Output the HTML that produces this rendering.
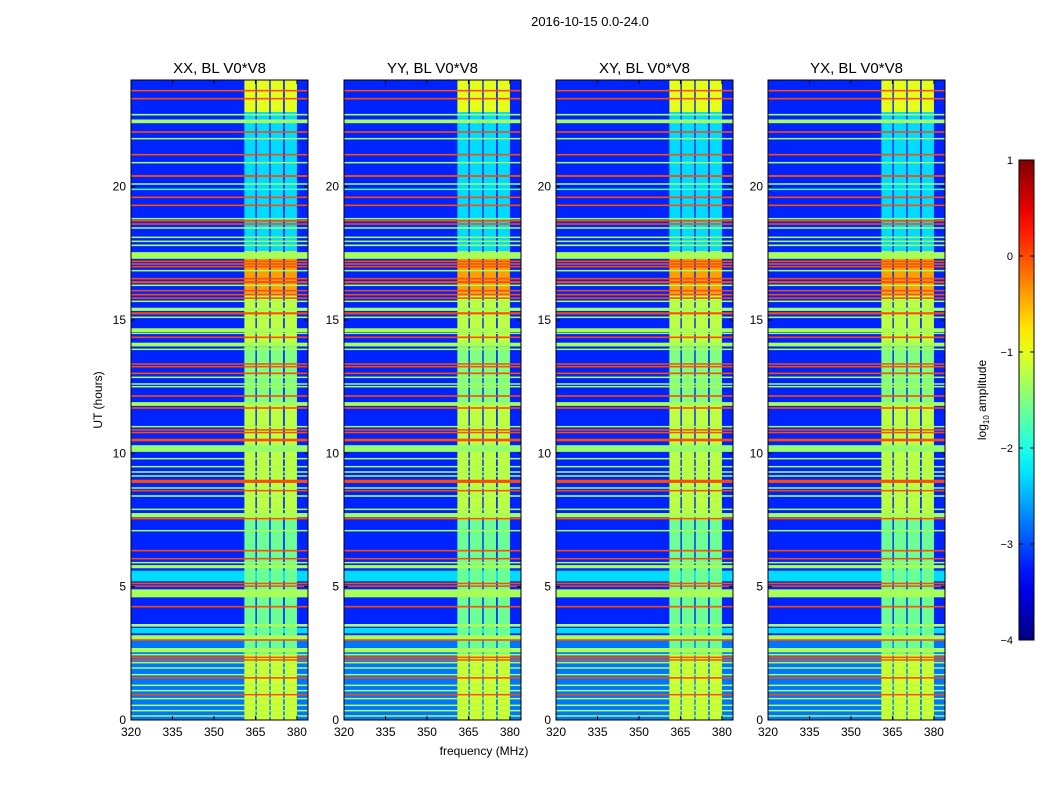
<!DOCTYPE html>
<html><head><meta charset="utf-8">
<style>
body{margin:0;background:#fff;}
svg{display:block;font-family:"Liberation Sans","DejaVu Sans",sans-serif;}
</style></head>
<body>
<svg id="chart" width="1050" height="800" viewBox="0 0 1050 800" xmlns="http://www.w3.org/2000/svg">
<rect width="1050" height="800" fill="#fff"/>
<text x="590" y="26" font-size="13" text-anchor="middle">2016-10-15 0.0-24.0</text>
<text x="484" y="755" font-size="12" text-anchor="middle">frequency (MHz)</text>
<text x="0" y="0" font-size="12" text-anchor="middle" transform="translate(102,400) rotate(-90)">UT (hours)</text>
<g id="panels"></g>
<g id="cbar"></g>
<text x="0" y="0" font-size="12" text-anchor="middle" transform="translate(986,400) rotate(-90)">log<tspan font-size="8" dy="3">10</tspan><tspan dy="-3"> amplitude</tspan></text>
</svg>
<script>
const panelTitles = ["XX, BL V0*V8","YY, BL V0*V8","XY, BL V0*V8","YX, BL V0*V8"];
const xTicks = [320,335,350,365,380];
const yTicks = [0,5,10,15,20];
const cbarTicks = [1,0,-1,-2,-3,-4];
const backgroundLevel = -3.2;
// background segments [t0, t1, level]
const bgSegments = [[0,3,-2.8],[5.2,5.6,-2.3],[3.25,3.45,-2.3]];
// vertical bands [f0, f1]
const bandFreqs = [[361,365],[365.5,370],[370.5,375],[375.6,380]];
// band level by time segments [t0, t1, level]
const bandSegments = [[0,2.5,-1.1],[2.5,7.5,-1.6],[7.5,11.8,-1.2],[11.8,14,-1.5],[14,16,-1.2],[16,17.3,-0.4],[17.3,17.6,-1.3],[17.6,22.8,-2.3],[22.8,24,-1.0]];
// horizontal RFI lines [hour, level, width(h)]
const rfiLines = [
[23.6,0,0.06],[23.3,0,0.06],[22.7,-1.3,0.06],[22.45,-1.3,0.14],[22.05,0,0.06],[21.8,-1.3,0.05],[21.2,0,0.06],[20.9,-1.3,0.05],
[20.4,0,0.07],[20.1,-1.3,0.05],[19.9,-1.8,0.04],[19.6,0,0.06],[19.3,0,0.06],[18.8,-1.3,0.05],[18.72,0,0.05],[18.6,0,0.05],
[18.45,-1.3,0.05],[18.1,-1.3,0.05],[17.95,-1.3,0.05],[17.8,-1.3,0.06],[17.42,-1.3,0.25],[17.2,0,0.06],[17.1,0,0.06],[17.0,0,0.05],
[16.85,-1.3,0.05],[16.55,0,0.06],[16.42,0,0.08],[16.3,-1.3,0.05],[16.1,0,0.05],[15.95,0,0.06],[15.82,0,0.05],[15.7,-1.3,0.05],
[15.4,-1.3,0.12],[15.25,0,0.08],[15.1,-1.3,0.05],[14.62,-1.3,0.14],[14.5,-1.3,0.05],[14.35,0,0.06],[14.08,-1.3,0.14],[13.9,-1.3,0.05],
[13.35,0,0.05],[13.25,0,0.05],[13.0,0,0.06],[12.85,-1.3,0.05],[12.6,-1.3,0.05],[12.5,-1.3,0.05],[12.15,0,0.06],
[11.85,-1.3,0.14],[11.7,0,0.06],[11.0,-1.3,0.05],[10.88,0,0.05],[10.78,0,0.05],[10.5,0,0.1],[10.18,-1.4,0.25],[9.8,-1.3,0.05],
[9.5,-1.3,0.05],[9.3,-1.3,0.05],[9.15,-1.3,0.05],[8.95,0,0.12],[8.7,-1.3,0.05],[8.6,0,0.05],[8.4,-1.3,0.06],[7.9,-1.3,0.05],
[7.68,-1.3,0.16],[7.55,0,0.05],[7.1,-1.3,0.05],[6.35,0,0.06],[6.05,0,0.05],[5.9,-1.3,0.05],[5.75,-1.3,0.12],[5.12,0,0.05],
[5.02,0,0.05],[4.75,-1.3,0.3],[4.25,0,0.06],[3.55,-1.3,0.1],[3.1,-1.3,0.16],[3.0,0,0.05],[2.62,-1.3,0.16],[2.45,-1.3,0.05],
[2.35,0,0.05],[2.25,0,0.05],[2.15,-1.3,0.05],[1.95,-1.3,0.05],[1.7,-1.3,0.05],[1.58,0,0.06],[1.3,-1.3,0.05],[1.1,-1.3,0.05],
[0.95,0,0.05],[0.8,-1.3,0.05],[0.55,-1.3,0.05],[0.35,-1.3,0.05],[0.15,-1.3,0.05]];
const panelX = [131,344,556,768];
const panelW = 177, panelTop = 80, panelBot = 720;
const fMin = 320, fMax = 384, tMin = 0, tMax = 24;
const NS = "http://www.w3.org/2000/svg";
function jet(v){
  let t=(v+4)/5; t=Math.max(0,Math.min(1,t));
  const c=x=>Math.round(255*Math.max(0,Math.min(1,x)));
  return `rgb(${c(1.5-Math.abs(4*t-3))},${c(1.5-Math.abs(4*t-2))},${c(1.5-Math.abs(4*t-1))})`;
}
function mk(tag,attrs,parent){const e=document.createElementNS(NS,tag);for(const k in attrs)e.setAttribute(k,attrs[k]);parent.appendChild(e);return e;}
const panels=document.getElementById('panels');
panelX.forEach((px,i)=>{
  const xs=f=>px+(f-fMin)/(fMax-fMin)*panelW;
  const ys=t=>panelBot-(t-tMin)/(tMax-tMin)*(panelBot-panelTop);
  const g=mk('g',{},panels);
  
  
  const bg=mk('rect',{x:px,y:panelTop,width:panelW,height:panelBot-panelTop,fill:jet(backgroundLevel)},g);
  
  
  bgSegments.forEach(s=>{
    const r=mk('rect',{x:px,y:ys(s[1]),width:panelW,height:ys(s[0])-ys(s[1]),fill:jet(s[2])},g);
    
    
  });
  bandFreqs.forEach(b=>{
    bandSegments.forEach(s=>{
      const r=mk('rect',{x:xs(b[0]),y:ys(s[1]),width:xs(b[1])-xs(b[0]),height:ys(s[0])-ys(s[1]),fill:jet(s[2])},g);
      
      
    });
  });
  rfiLines.forEach(l=>{
    const h=Math.max(1.5,(ys(l[0]-l[2]/2)-ys(l[0]+l[2]/2)));
    const r=mk('rect',{x:px,y:ys(l[0])-h/2,width:panelW,height:h,fill:jet(l[1])},g);
    
    
  });
  const fr=mk('rect',{x:px,y:panelTop,width:panelW,height:panelBot-panelTop,fill:'none',stroke:'#000','stroke-width':1},g);
  
  
  const tt=mk('text',{x:px+panelW/2,y:73,'font-size':15,'text-anchor':'middle'},g);
  tt.textContent=panelTitles[i];
  
  
  xTicks.forEach(f=>{
    mk('line',{x1:xs(f),x2:xs(f),y1:panelBot,y2:panelBot-4,stroke:'#000'},g);
    mk('line',{x1:xs(f),x2:xs(f),y1:panelTop,y2:panelTop+4,stroke:'#000'},g);
    const t=mk('text',{x:xs(f),y:736,'font-size':12,'text-anchor':'middle'},g);
    t.textContent=f;
    
    
  });
  yTicks.forEach(v=>{
    mk('line',{x1:px,x2:px+4,y1:ys(v),y2:ys(v),stroke:'#000'},g);
    mk('line',{x1:px+panelW,x2:px+panelW-4,y1:ys(v),y2:ys(v),stroke:'#000'},g);
    const t=mk('text',{x:px-5,y:ys(v)+4,'font-size':12,'text-anchor':'end'},g);
    t.textContent=v;
    
    
  });
});
// colorbar
const cb=document.getElementById('cbar');
const cbX=1019,cbW=15,cbTop=160,cbBot=640,cbMin=-4,cbMax=1;
const defs=mk('defs',{},cb);
const lg=mk('linearGradient',{id:'jetg',x1:0,y1:1,x2:0,y2:0},defs);
for(let k=0;k<=20;k++){const v=cbMin+(cbMax-cbMin)*k/20;mk('stop',{offset:k/20,'stop-color':jet(v)},lg);}
const cbr=mk('rect',{x:cbX,y:cbTop,width:cbW,height:cbBot-cbTop,fill:'url(#jetg)',stroke:'#000','stroke-width':1},cb);


const cy=v=>cbBot-(v-cbMin)/(cbMax-cbMin)*(cbBot-cbTop);
cbarTicks.forEach(v=>{
  mk('line',{x1:cbX,x2:cbX+4,y1:cy(v),y2:cy(v),stroke:'#000'},cb);
  mk('line',{x1:cbX+cbW,x2:cbX+cbW-4,y1:cy(v),y2:cy(v),stroke:'#000'},cb);
  const t=mk('text',{x:cbX-6,y:cy(v)+4,'font-size':11,'text-anchor':'end'},cb);
  t.textContent=v<0?'\u2212'+(-v):String(v);
  
  
});
</script>
</body></html>
